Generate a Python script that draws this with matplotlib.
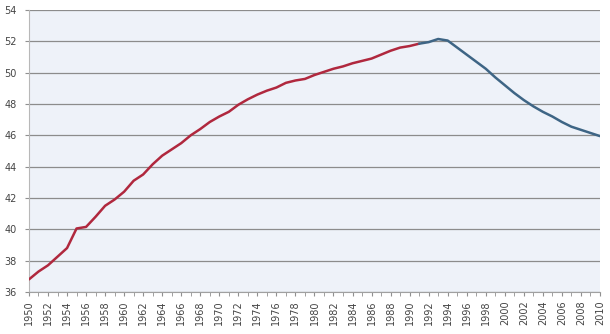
import numpy as np
import matplotlib
matplotlib.use("Agg")
import matplotlib.pyplot as plt

# yearly values, two segments meeting at 1991
years_a = list(range(1950, 1992))
vals_a = [36.8, 37.3, 37.7, 38.25, 38.8, 40.05, 40.15, 40.8, 41.5, 41.9,
          42.4, 43.1, 43.5, 44.15, 44.7, 45.1, 45.5, 46.0, 46.4, 46.85,
          47.2, 47.5, 47.95, 48.3, 48.6, 48.85, 49.05, 49.35, 49.5, 49.6,
          49.85, 50.05, 50.25, 50.4, 50.6, 50.75, 50.9, 51.15, 51.4, 51.6,
          51.7, 51.85]
years_b = list(range(1991, 2011))
vals_b = [51.85, 51.95, 52.15, 52.05, 51.6, 51.15, 50.7, 50.25, 49.7, 49.2,
          48.7, 48.25, 47.85, 47.5, 47.2, 46.85, 46.55, 46.35, 46.15, 45.95]

yticks = list(range(36, 55, 2))
xlabels = list(range(1950, 2011, 2))

fig = plt.figure(figsize=(6.1, 3.34), dpi=100)
ax = fig.add_axes([0.0475, 0.126, 0.936, 0.844])
ax.set_facecolor("#eef2f9")

ax.plot(years_a, vals_a, color="#b0283e", linewidth=1.8, solid_capstyle="round", zorder=3)
ax.plot(years_b, vals_b, color="#3e6585", linewidth=1.8, solid_capstyle="round", zorder=3)

ax.set_xlim(1950, 2010)
ax.set_ylim(36, 54)
ax.set_yticks(yticks)
ax.set_xticks(xlabels)
ax.set_xticklabels([str(y) for y in xlabels], rotation=90)
ax.set_xticks(range(1950, 2011), minor=True)

ax.grid(axis="y", color="#8c8c8c", linewidth=0.9)
ax.set_axisbelow(True)

for side in ("top", "right"):
    ax.spines[side].set_visible(False)
ax.spines["left"].set_color("#b8b8b8")
ax.spines["bottom"].set_color("#a0a0a0")

ax.tick_params(axis="x", which="both", direction="out", length=3, color="#909090",
               labelsize=7, labelcolor="#444444", pad=3)
ax.tick_params(axis="y", direction="out", length=3, color="#909090",
               labelsize=7, labelcolor="#444444", pad=6)

fig.savefig("out.png", dpi=100)
